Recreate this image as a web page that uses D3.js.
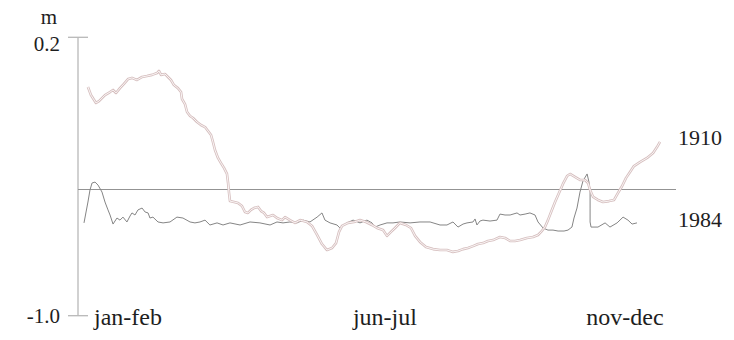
<!DOCTYPE html>
<html><head><meta charset="utf-8">
<script src="https://cdn.jsdelivr.net/npm/d3@7"></script>
<style>
html,body{margin:0;padding:0;background:#fff;}
</style></head>
<body><svg id="c" width="734" height="340"></svg>
<script>
// Day of year (0-365) and sea level (m)
const days1910 = [2.5,4.4,7.6,9.5,13.3,16.5,18.4,20.3,22.8,25.3,27.9,30.4,33.6,36.8,39.9,43.1,46.3,47.5,48.8,51.3,53.2,55.1,57.0,59.5,61.5,62.1,64.0,65.3,67.2,69.1,71.6,74.1,76.7,78.6,80.5,81.7,83.0,84.9,86.8,88.7,90.6,91.3,91.9,92.5,95.1,97.6,100.1,102.0,103.9,105.8,107.7,110.3,112.2,114.1,116.0,119.8,122.3,125.5,127.4,130.5,133.7,136.9,141.3,144.5,147.7,150.8,154.0,157.2,159.7,161.6,163.5,167.3,171.1,174.9,178.7,182.5,185.7,189.5,192.0,194.5,197.1,200.2,204.1,207.2,209.8,212.9,216.7,221.2,225.6,230.0,233.8,237.0,240.2,243.3,246.5,249.7,252.8,256.0,259.2,263.6,266.8,270.0,273.1,276.3,280.7,284.5,287.7,289.6,292.1,294.0,296.0,298.5,301.0,303.5,306.1,308.0,311.1,314.3,317.5,319.4,320.7,322.6,325.7,328.9,332.7,335.9,338.4,341.0,343.5,346.0,348.5,352.3,356.8,360.6,363.1,365.0];
const level1910 = [-0.014,-0.049,-0.083,-0.075,-0.049,-0.036,-0.027,-0.040,-0.019,-0.001,0.020,0.025,0.016,0.029,0.033,0.038,0.046,0.055,0.038,0.042,0.029,0.016,-0.006,-0.019,-0.036,-0.066,-0.088,-0.122,-0.139,-0.148,-0.165,-0.178,-0.187,-0.204,-0.221,-0.251,-0.286,-0.320,-0.342,-0.363,-0.389,-0.428,-0.471,-0.506,-0.510,-0.514,-0.527,-0.553,-0.557,-0.544,-0.536,-0.531,-0.549,-0.557,-0.575,-0.566,-0.579,-0.588,-0.575,-0.588,-0.600,-0.588,-0.596,-0.613,-0.652,-0.691,-0.717,-0.708,-0.687,-0.639,-0.613,-0.600,-0.596,-0.588,-0.596,-0.609,-0.622,-0.631,-0.656,-0.639,-0.622,-0.600,-0.609,-0.622,-0.656,-0.682,-0.704,-0.713,-0.717,-0.717,-0.725,-0.721,-0.713,-0.708,-0.700,-0.691,-0.687,-0.678,-0.674,-0.661,-0.665,-0.678,-0.678,-0.674,-0.665,-0.661,-0.652,-0.639,-0.618,-0.588,-0.553,-0.510,-0.471,-0.432,-0.398,-0.389,-0.402,-0.415,-0.415,-0.428,-0.458,-0.488,-0.501,-0.510,-0.506,-0.501,-0.471,-0.441,-0.406,-0.381,-0.355,-0.338,-0.320,-0.299,-0.273,-0.251];
const days1984 = [0,1.3,2.5,3.8,5.1,7.0,8.9,11.4,13.3,15.2,16.5,18.4,20.9,22.8,24.7,27.2,29.2,30.4,32.3,34.2,36.8,38.7,40.6,41.8,43.7,46.9,50.1,54.5,58.9,62.7,67.2,70.3,73.5,76.7,79.8,84.3,88.1,92.5,98.9,105.2,111.5,117.9,122.3,126.1,130.5,135.0,138.8,143.2,147.7,150.8,152.7,155.9,160.3,162.2,166.7,170.5,174.9,179.3,182.5,184.4,187.6,192.0,195.8,200.2,206.6,212.9,219.3,225.6,230.0,233.8,237.0,240.2,242.7,246.5,247.8,249.0,250.9,252.8,257.3,261.7,263.6,266.8,270.0,274.4,276.3,279.5,282.6,285.8,287.7,290.9,294.0,297.2,300.4,304.2,306.7,309.2,310.5,312.4,314.3,316.2,318.8,320.0,320.7,320.7,320.7,321.3,325.7,330.2,333.3,337.8,341.6,344.7,347.3,350.4];
const level1984 = [-0.600,-0.553,-0.510,-0.458,-0.428,-0.424,-0.437,-0.467,-0.510,-0.544,-0.566,-0.605,-0.579,-0.588,-0.575,-0.596,-0.570,-0.557,-0.566,-0.544,-0.536,-0.553,-0.557,-0.579,-0.575,-0.596,-0.600,-0.596,-0.575,-0.579,-0.596,-0.600,-0.596,-0.588,-0.609,-0.600,-0.609,-0.600,-0.609,-0.596,-0.600,-0.609,-0.596,-0.600,-0.596,-0.600,-0.588,-0.596,-0.575,-0.557,-0.588,-0.600,-0.609,-0.622,-0.600,-0.588,-0.600,-0.588,-0.600,-0.618,-0.609,-0.600,-0.600,-0.596,-0.600,-0.596,-0.596,-0.609,-0.609,-0.596,-0.618,-0.605,-0.600,-0.596,-0.583,-0.609,-0.592,-0.588,-0.592,-0.588,-0.562,-0.566,-0.566,-0.557,-0.566,-0.562,-0.557,-0.566,-0.596,-0.622,-0.631,-0.631,-0.635,-0.635,-0.631,-0.618,-0.579,-0.536,-0.467,-0.419,-0.389,-0.424,-0.467,-0.536,-0.596,-0.618,-0.618,-0.600,-0.618,-0.600,-0.575,-0.588,-0.605,-0.600];
const referenceLevel = -0.456;
const yTickValues = [0.2, -1.0];
const yTickLabels = ["0.2", "-1.0"];
const xTickDays = [27.9, 190.7, 342.8];
const xTickLabels = ["jan-feb", "jun-jul", "nov-dec"];
const seriesNames = ["1910", "1984"];
const unitLabel = "m";

const FONT = "'Liberation Serif', 'Times New Roman', Times, serif";
const svg = d3.select("#c").attr("font-family", FONT);
const x = d3.scaleLinear().domain([0, 365]).range([84, 660]);
const y = d3.scaleLinear().domain([-1.0, 0.2]).range([315.7, 37.3]);
const axisX = 78;

function txt(xp, yp, s, size, anchor) {
  return svg.append("text").attr("x", xp).attr("y", yp)
    .attr("text-anchor", anchor || "start")
    .attr("font-family", FONT).attr("font-size", size)
    .attr("fill", "#1e1e1e").text(s);
}

// y axis
svg.append("line").attr("x1", axisX).attr("x2", axisX)
  .attr("y1", y(0.2)).attr("y2", y(-1.0))
  .attr("stroke", "#b8b8b8").attr("stroke-width", 1.3);
yTickValues.forEach((v, i) => {
  svg.append("line").attr("x1", axisX - 10).attr("x2", axisX + 10)
    .attr("y1", y(v)).attr("y2", y(v))
    .attr("stroke", "#b8b8b8").attr("stroke-width", 1.3);
  txt(60, y(v) + (i === 0 ? 14 : 7), yTickLabels[i], 21, "end");
});
txt(49, 24, unitLabel, 21, "middle");

// reference line
svg.append("line").attr("x1", axisX).attr("x2", 676)
  .attr("y1", y(referenceLevel)).attr("y2", y(referenceLevel))
  .attr("stroke", "#939393").attr("stroke-width", 1.1);

// x labels
xTickDays.forEach((d, i) => txt(x(d), 325, xTickLabels[i], 24, "middle"));

const line = d3.line().x(d => x(d[0])).y(d => y(d[1]));
const s1910 = days1910.map((d, i) => [d, level1910[i]]);
const s1984 = days1984.map((d, i) => [d, level1984[i]]);

svg.append("path").datum(s1984).attr("d", line).attr("fill", "none")
  .attr("stroke", "#858585").attr("stroke-width", 1).attr("stroke-linejoin", "round");
svg.append("path").datum(s1910).attr("d", line).attr("fill", "none")
  .attr("stroke", "#d6bfbf").attr("stroke-width", 2.6).attr("stroke-linejoin", "round");
svg.append("path").datum(s1910).attr("d", line).attr("fill", "none")
  .attr("stroke", "#fdfafa").attr("stroke-width", 0.9).attr("stroke-linejoin", "round");

// series labels
txt(678, 145, seriesNames[0], 22);
txt(678, 227, seriesNames[1], 22);
</script></body></html>
